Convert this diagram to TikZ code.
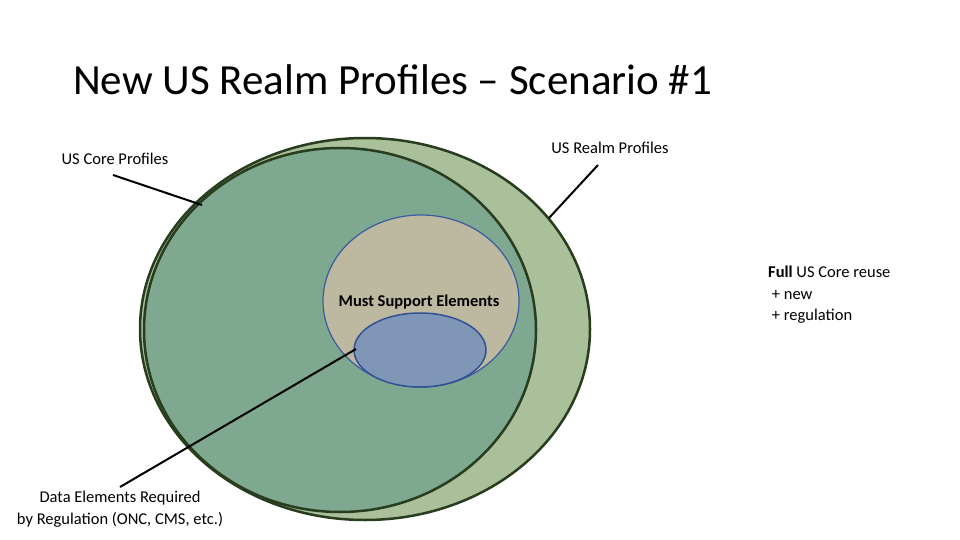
\documentclass[tikz,border=0pt]{standalone}
\usepackage{fontspec}
\setmainfont{Carlito}
\usetikzlibrary{shapes.geometric}
\begin{document}
\begin{tikzpicture}[x=1pt,y=-1pt,
  lbl/.style={font=\fontsize{16.5}{21.5}\selectfont,inner sep=0pt},
  lead/.style={draw=black,line width=2pt}]
\useasboundingbox (0,0) rectangle (960,540);
\fill[white] (0,0) rectangle (960,540);
\node[anchor=west,inner sep=0pt,font=\fontsize{43}{50}\selectfont] (title) at (73,80) {New US Realm Profiles -- Scenario \#1};
\node[draw={rgb,255:red,40;green,60;blue,30},line width=2.5pt,fill={rgb,255:red,169;green,192;blue,154},ellipse,minimum width=450,minimum height=382,inner sep=0pt] (realm) at (365,329) {};
\node[draw={rgb,255:red,40;green,60;blue,30},line width=2.5pt,fill={rgb,255:red,127;green,168;blue,144},ellipse,minimum width=392,minimum height=364,inner sep=0pt] (core) at (340,330) {};
\node[draw={rgb,255:red,60;green,90;blue,160},line width=1.2pt,fill={rgb,255:red,189;green,184;blue,160},ellipse,minimum width=196,minimum height=172,inner sep=0pt] (must) at (421,301) {};
\node[draw={rgb,255:red,50;green,80;blue,150},line width=1.5pt,fill={rgb,255:red,128;green,150;blue,182},ellipse,minimum width=132,minimum height=74,inner sep=0pt] (reg) at (420,350) {};
\node[lbl,font=\fontsize{16.5}{20}\selectfont\bfseries] (mustl) at (419,302) {Must Support Elements};
\node[lbl] (corel) at (115,159) {US Core Profiles};
\node[lbl] (realml) at (610,148) {US Realm Profiles};
\node[lbl,align=center] (datal) at (120,509) {Data Elements Required\\by Regulation (ONC, CMS, etc.)};
\node[lbl,align=left,anchor=west] (full) at (768,295) {\textbf{Full} US Core reuse\\\ + new\\\ + regulation};
\coordinate (c1) at (113,175); \coordinate (c2) at (202,205);
\coordinate (r1) at (598,165); \coordinate (r2) at (549,218);
\coordinate (d1) at (120,487); \coordinate (d2) at (356,349);
\draw[lead] (c1) -- (c2);
\draw[lead] (r1) -- (r2);
\draw[lead] (d1) -- (d2);
\end{tikzpicture}
\end{document}
